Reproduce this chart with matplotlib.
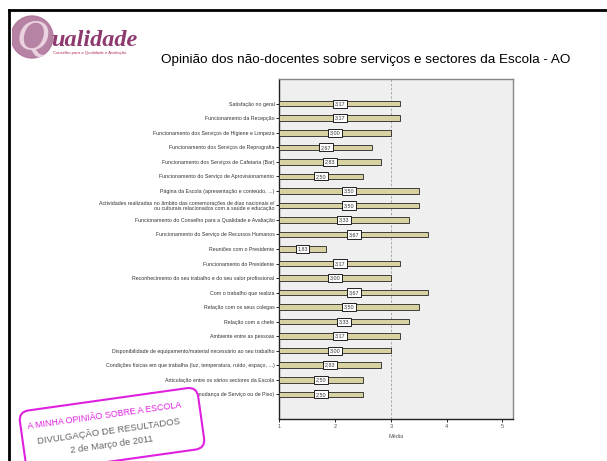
import matplotlib
matplotlib.use("Agg")
import matplotlib.pyplot as plt
import matplotlib.transforms as mtransforms
from matplotlib.patches import FancyBboxPatch, Circle
from matplotlib.lines import Line2D
import numpy as np

plt.rcParams['font.family'] = ['Liberation Sans', 'DejaVu Sans']

title = "Opinião dos não-docentes sobre serviços e sectores da Escola - AO"

items = [
    "Satisfação no geral",
    "Funcionamento da Recepção",
    "Funcionamento dos Serviços de Higiene e Limpeza",
    "Funcionamento dos Serviços de Reprografia",
    "Funcionamento dos Serviços de Cafetaria (Bar)",
    "Funcionamento do Serviço de Aprovisionamento",
    "Página da Escola (apresentação e conteúdo, ...)",
    "Actividades realizadas no âmbito das comemorações de dias nacionais e/\nou culturais relacionados com a saúde e educação",
    "Funcionamento do Conselho para a Qualidade e Avaliação",
    "Funcionamento do Serviço de Recursos Humanos",
    "Reuniões com o Presidente",
    "Funcionamento do Presidente",
    "Reconhecimento do seu trabalho e do seu valor profissional",
    "Com o trabalho que realiza",
    "Relação com os seus colegas",
    "Relação com a chefe",
    "Ambiente entre as pessoas",
    "Disponibilidade de equipamento/material necessário ao seu trabalho",
    "Condições físicas em que trabalha (luz, temperatura, ruído, espaço, ...)",
    "Articulação entre os vários sectores da Escola",
    "Mobilidade interna (mudança de Serviço ou de Piso)",
]

medias = [3.17, 3.17, 3.00, 2.67, 2.83, 2.50, 3.50, 3.50, 3.33, 3.67, 1.83,
          3.17, 3.00, 3.67, 3.50, 3.33, 3.17, 3.00, 2.83, 2.50, 2.50]

x_ticks = [1, 2, 3, 4, 5]

W, H = 607, 461
fig = plt.figure(figsize=(W / 100, H / 100), dpi=100)

# slide frame (top and left lines)
fig.add_artist(Line2D([9 / W, 9 / W], [0, 1 - 10 / H], transform=fig.transFigure, color='k', lw=2))
fig.add_artist(Line2D([9 / W, 1], [1 - 10 / H, 1 - 10 / H], transform=fig.transFigure, color='k', lw=2))

# chart
ax = fig.add_axes([279.3 / W, 1 - 419 / H, (513 - 279.3) / W, (419 - 79) / H])
ax.set_facecolor('#EFEFEF')
y = np.arange(len(medias))
vals = np.array(medias)
ax.barh(y, vals - 1, left=1, height=0.38, color='#D8D2A2', edgecolor='#222222', linewidth=0.6, zorder=3)
for yi, v in zip(y, vals):
    ax.text((1 + v) / 2, yi, f"{v:.2f}".replace('.', ','), ha='center', va='center',
            fontsize=3.9, color='#333333', zorder=4,
            bbox=dict(boxstyle='square,pad=0.3', fc='white', ec='black', lw=0.6))
ax.axvline(3, color='#A0A0A0', ls=(0, (3, 2)), lw=0.6, zorder=2)

ax.set_xlim(1, 5.19)
ax.set_ylim(len(medias) - 1 + 1.7, -1.7)
ax.set_xticks(x_ticks)
ax.set_xticklabels([str(t) for t in x_ticks], fontsize=4, color='#555555')
ax.set_yticks(y)
ax.set_yticklabels(items, fontsize=3.8, color='#333333', linespacing=0.9)
ax.tick_params(axis='both', length=2, width=0.6, pad=1.5)
ax.set_xlabel("Média", fontsize=4, color='#555555', labelpad=4)
for side in ['top', 'right']:
    ax.spines[side].set_color('#888888')
    ax.spines[side].set_linewidth(1)
for side in ['left', 'bottom']:
    ax.spines[side].set_color('#222222')
    ax.spines[side].set_linewidth(1)

fig.text(365.5 / W, 1 - 60 / H, title, ha='center', va='center', fontsize=9.7, color='black')

# logo
lax = fig.add_axes([12 / W, 1 - 62 / H, 133 / W, 50 / H])
lax.set_xlim(0, 133)
lax.set_ylim(50, 0)
lax.axis('off')
lax.add_patch(Circle((20, 25), 21, color='#B0769A', alpha=0.9))
lax.text(21, 27, "Q", fontsize=32, family='Liberation Serif', style='italic',
         color='#EAD2E0', ha='center', va='center')
lax.text(39, 34, "ualidade", fontsize=17.5, family='Liberation Serif', style='italic',
         weight='bold', color='#8E3A6E', ha='left', va='baseline')
lax.text(41, 41, "Conselho para a Qualidade e Avaliação", fontsize=3.1, color='#B0305A',
         ha='left', va='center')

# stamp
cx, cy = 112 / 100, (H - 430) / 100
rot = mtransforms.Affine2D().rotate_deg_around(cx, cy, 8) + fig.dpi_scale_trans
stamp = FancyBboxPatch((cx - 0.9, cy - 0.31), 1.8, 0.62,
                       boxstyle='round,pad=0,rounding_size=0.1', transform=rot,
                       fc='white', ec='#E020E0', lw=1.5, zorder=5)
fig.add_artist(stamp)
fig.text(104 / 100, (H - 416) / 100, "A MINHA OPINIÃO SOBRE A ESCOLA",
         transform=fig.dpi_scale_trans, rotation=8, rotation_mode='anchor',
         ha='center', va='center', fontsize=6.4, color='#E020E0', zorder=6)
fig.text(109 / 100, (H - 431) / 100, "DIVULGAÇÃO DE RESULTADOS",
         transform=fig.dpi_scale_trans, rotation=8, rotation_mode='anchor',
         ha='center', va='center', fontsize=6.8, color='#666666', zorder=6)
fig.text(112 / 100, (H - 445) / 100, "2 de Março de 2011",
         transform=fig.dpi_scale_trans, rotation=8, rotation_mode='anchor',
         ha='center', va='center', fontsize=6.8, color='#666666', zorder=6)

fig.savefig("out.png", dpi=100)
